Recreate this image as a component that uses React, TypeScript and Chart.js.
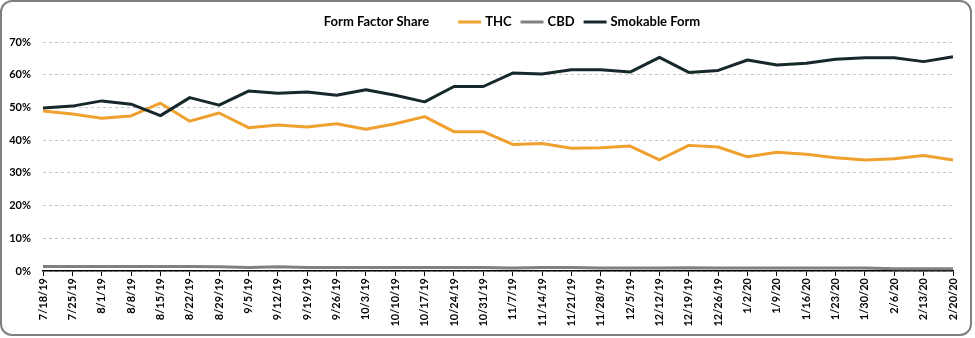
import React, { useEffect, useRef } from 'react';
import { Chart, registerables } from 'chart.js';

Chart.register(...registerables);

const FONT = 'Lato, "Open Sans", "DejaVu Sans", sans-serif';

const TITLE = 'Form Factor Share';

const labels = [
  '7/18/19', '7/25/19', '8/1/19', '8/8/19', '8/15/19', '8/22/19', '8/29/19', '9/5/19',
  '9/12/19', '9/19/19', '9/26/19', '10/3/19', '10/10/19', '10/17/19', '10/24/19', '10/31/19',
  '11/7/19', '11/14/19', '11/21/19', '11/28/19', '12/5/19', '12/12/19', '12/19/19', '12/26/19',
  '1/2/20', '1/9/20', '1/16/20', '1/23/20', '1/30/20', '2/6/20', '2/13/20', '2/20/20',
];

const thc = [
  48.9, 48.0, 46.7, 47.4, 51.3, 45.8, 48.3, 43.8,
  44.6, 44.0, 45.0, 43.3, 45.0, 47.2, 42.6, 42.6,
  38.7, 39.0, 37.5, 37.7, 38.2, 34.0, 38.4, 37.9,
  34.9, 36.3, 35.7, 34.6, 33.9, 34.3, 35.3, 33.9,
];

const cbd = [
  1.4, 1.4, 1.4, 1.4, 1.4, 1.4, 1.3, 1.1,
  1.3, 1.1, 1.1, 1.1, 1.1, 1.1, 1.1, 1.1,
  0.9, 1.1, 1.1, 0.9, 0.9, 0.9, 1.0, 0.9,
  0.9, 0.9, 0.9, 0.9, 0.9, 0.7, 0.7, 0.7,
];

const smokable = [
  49.8, 50.4, 52.0, 51.0, 47.5, 53.0, 50.7, 55.0,
  54.3, 54.7, 53.7, 55.4, 53.7, 51.7, 56.4, 56.4,
  60.5, 60.2, 61.5, 61.5, 60.8, 65.3, 60.7, 61.3,
  64.5, 63.0, 63.5, 64.7, 65.2, 65.2, 64.0, 65.5,
];

const yMin = 0;
const yMax = 70;
const yStep = 10;

const COLORS = {
  thc: '#EFA02E',
  cbd: '#808080',
  smokable: '#17282A',
};

const frameAndHeader = {
  id: 'frameAndHeader',
  beforeDraw(chart: any) {
    const ctx = chart.ctx;
    ctx.save();
    ctx.fillStyle = '#ffffff';
    ctx.fillRect(0, 0, chart.width, chart.height);
    ctx.restore();
  },
  afterDraw(chart: any) {
    const ctx = chart.ctx;
    ctx.save();
    // rounded frame
    ctx.strokeStyle = '#7f7f7f';
    ctx.lineWidth = 2;
    ctx.beginPath();
    ctx.roundRect(1, 1, 970, 334, 11);
    ctx.stroke();

    // title + legend row
    ctx.font = `bold 13px ${FONT}`;
    ctx.textBaseline = 'middle';
    ctx.fillStyle = '#000';
    const y = 22;
    const lineLen = 23;
    const gapLT = 4;
    const gapItems = 9;
    const titleGap = 29;
    const order = [0, 1, 2];
    const items = order.map((i) => ({
      label: chart.data.datasets[i].label,
      color: chart.data.datasets[i].borderColor,
    }));
    let total = ctx.measureText(TITLE).width + titleGap;
    items.forEach((it: any, i: number) => {
      total += lineLen + gapLT + ctx.measureText(it.label).width + (i < items.length - 1 ? gapItems : 0);
    });
    let x = 512 - total / 2;
    ctx.textAlign = 'left';
    ctx.fillText(TITLE, x, y);
    x += ctx.measureText(TITLE).width + titleGap;
    items.forEach((it: any) => {
      ctx.strokeStyle = it.color;
      ctx.lineWidth = 3;
      ctx.beginPath();
      ctx.moveTo(x, y);
      ctx.lineTo(x + lineLen, y);
      ctx.stroke();
      x += lineLen + gapLT;
      ctx.fillStyle = '#000';
      ctx.fillText(it.label, x, y);
      x += ctx.measureText(it.label).width + gapItems;
    });
    ctx.restore();
  },
};

export default function App() {
  const ref = useRef<HTMLCanvasElement | null>(null);

  useEffect(() => {
    document.body.style.margin = '0';
    const canvas = ref.current;
    if (!canvas) return;
    const chart = new Chart(canvas, {
      type: 'line',
      data: {
        labels,
        datasets: [
          {
            label: 'THC',
            data: thc,
            borderColor: COLORS.thc,
            backgroundColor: COLORS.thc,
            borderWidth: 3,
            pointRadius: 0,
            tension: 0,
            borderJoinStyle: 'round',
            order: 1,
          },
          {
            label: 'CBD',
            data: cbd,
            borderColor: COLORS.cbd,
            backgroundColor: COLORS.cbd,
            borderWidth: 3,
            pointRadius: 0,
            tension: 0,
            borderJoinStyle: 'round',
            order: 2,
          },
          {
            label: 'Smokable Form',
            data: smokable,
            borderColor: COLORS.smokable,
            backgroundColor: COLORS.smokable,
            borderWidth: 3,
            pointRadius: 0,
            tension: 0,
            borderJoinStyle: 'round',
            order: 0,
          },
        ],
      },
      options: {
        responsive: false,
        animation: false,
        events: [],
        layout: { padding: { top: 42, left: 0, right: 22, bottom: 0 } },
        plugins: {
          legend: { display: false },
          title: { display: false },
          tooltip: { enabled: false },
        },
        scales: {
          x: {
            offset: false,
            grid: {
              display: true,
              drawOnChartArea: false,
              drawTicks: true,
              tickLength: 5,
              color: '#000',
              lineWidth: 1,
            },
            border: { display: true, color: '#000', width: 1.5 },
            ticks: {
              autoSkip: false,
              minRotation: 90,
              maxRotation: 90,
              padding: 2,
              color: '#000',
              font: { family: FONT, size: 11, weight: 'bold' },
            },
            afterFit(scale: any) {
              scale.height = 338 - 271;
            },
          },
          y: {
            min: yMin,
            max: yMax,
            grid: {
              drawTicks: false,
              color: '#c6c6c6',
              lineWidth: 1,
            },
            border: { display: false, dash: [3, 3] },
            ticks: {
              stepSize: yStep,
              padding: 12,
              color: '#000',
              font: { family: FONT, size: 11, weight: 'bold' },
              callback: (v: any) => `${v}%`,
            },
            afterFit(scale: any) {
              scale.width = 43;
            },
          },
        },
      },
      plugins: [frameAndHeader],
    });
    return () => chart.destroy();
  }, []);

  return (
    <div style={{ position: 'fixed', left: 0, top: 0, width: 975, height: 338, background: '#fff' }}>
      <canvas ref={ref} width={975} height={338} style={{ display: 'block', width: 975, height: 338 }} />
    </div>
  );
}
